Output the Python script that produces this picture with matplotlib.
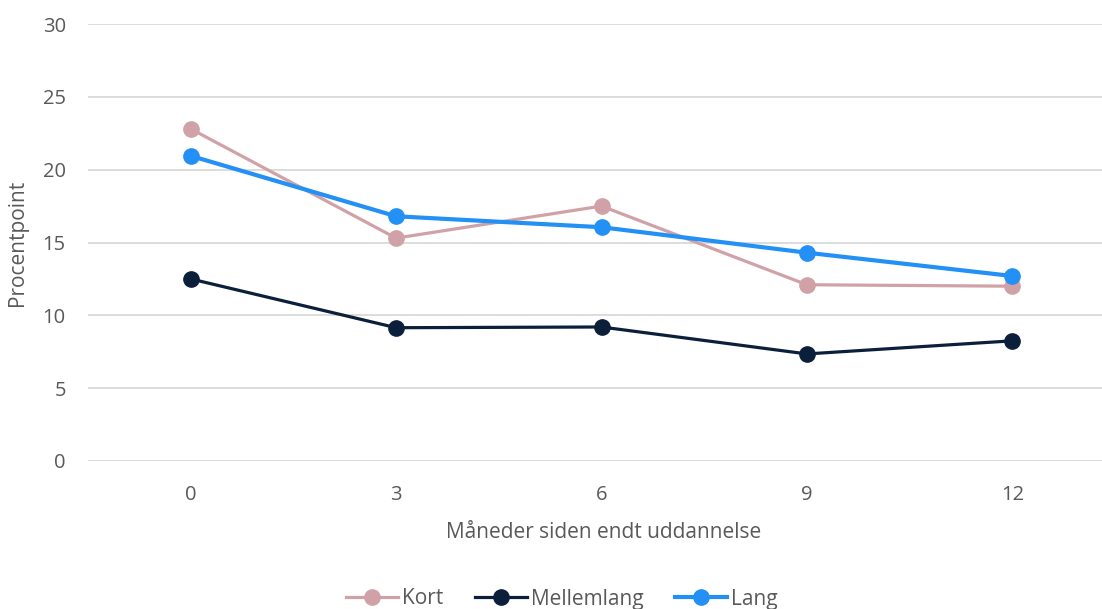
#!/usr/bin/env python3
"""Ledighed efter endt uddannelse, fordelt på uddannelseslængde."""

import matplotlib
matplotlib.use("Agg")
import matplotlib.pyplot as plt

plt.rcParams["font.family"] = ["Open Sans", "DejaVu Sans"]

# ---------------------------------------------------------------------------
# Data
# ---------------------------------------------------------------------------

months = ["0", "3", "6", "9", "12"]
kort = [22.8, 15.3, 17.5, 12.1, 12.0]
mellemlang = [12.5, 9.15, 9.2, 7.35, 8.25]
lang = [20.95, 16.8, 16.05, 14.3, 12.7]

# ---------------------------------------------------------------------------
# Plot
# ---------------------------------------------------------------------------

fig = plt.figure(figsize=(11.02, 6.09), dpi=100)
ax = fig.add_axes([88 / 1102, 1 - 461 / 609, (1115 - 88) / 1102, (461 - 24) / 609])

x = list(range(len(months)))
ax.plot(x, kort, "-o", color="#D0A2A7", linewidth=2.3, markersize=11, label="Kort", zorder=3)
ax.plot(x, mellemlang, "-o", color="#0B1F3A", linewidth=2.3, markersize=11, label="Mellemlang", zorder=3)
ax.plot(x, lang, "-o", color="#2290F5", linewidth=3.0, markersize=11, label="Lang", zorder=4)

ax.set_xlim(-0.5, 4.5)
ax.set_ylim(0, 30)
ax.set_yticks(range(0, 31, 5))
ax.set_xticks(x)
ax.set_xticklabels(months)

ax.grid(True, axis="y", color="#D9D9D9", linewidth=1.3)
ax.set_axisbelow(True)
for s in ax.spines.values():
    s.set_visible(False)
ax.tick_params(length=0, labelsize=14.5, colors="#595959")
ax.tick_params(axis="x", pad=17)
ax.tick_params(axis="y", pad=16)

ax.set_ylabel("Procentpoint", fontsize=15, color="#595959")
ax.yaxis.set_label_coords(-(88 - 28) / (1115 - 88), 0.5)
ax.set_xlabel("Måneder siden endt uddannelse", fontsize=15, color="#595959")
ax.xaxis.set_label_coords((604 - 88) / (1115 - 88), -(522 - 461) / (461 - 24))

leg = fig.legend(loc="center", bbox_to_anchor=(562 / 1102, 1 - 599 / 609), ncol=3,
                 frameon=False, fontsize=15, handlelength=2.5, handletextpad=0.2,
                 columnspacing=1.5)
for t in leg.get_texts():
    t.set_color("#595959")

fig.savefig("out.png", dpi=100)
